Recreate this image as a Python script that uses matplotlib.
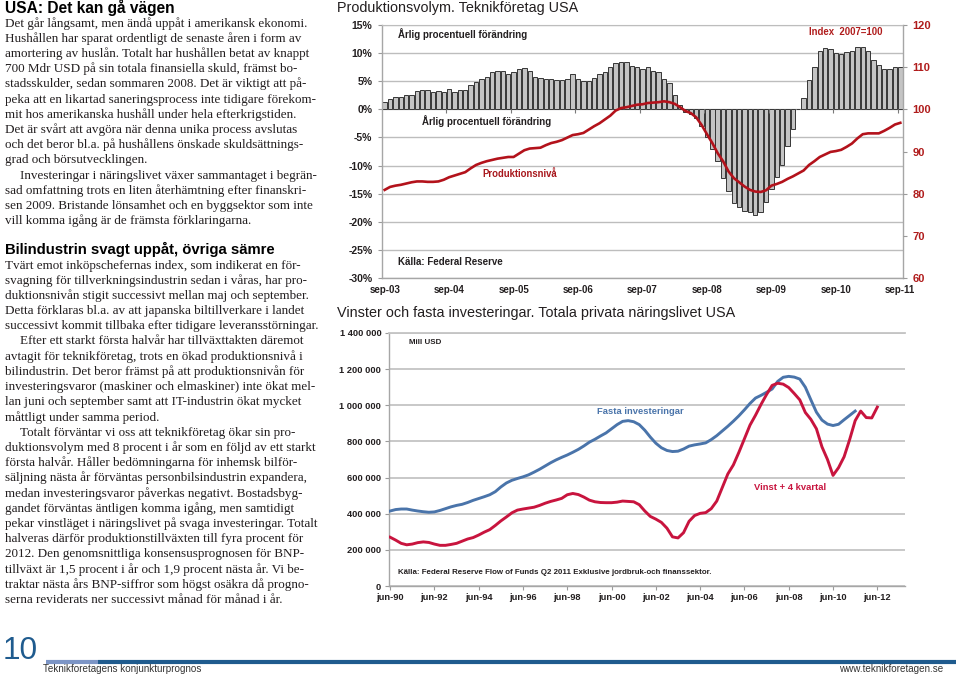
import matplotlib
matplotlib.use("Agg")
import matplotlib.pyplot as plt
from matplotlib.font_manager import FontProperties
from matplotlib.lines import Line2D
import numpy as np

W, H, DPI = 960, 676, 100

# ------------------------------------------------------------------ data
# Top chart: monthly, sep-03 .. sep-11
top_tick_labels = ["sep-03", "sep-04", "sep-05", "sep-06", "sep-07",
                   "sep-08", "sep-09", "sep-10", "sep-11"]
growth_pct = [1.3, 1.9, 2.2, 2.2, 2.6, 2.6, 3.3, 3.5, 3.4, 3.1, 3.2, 3.1,
              3.6, 3.1, 3.5, 3.5, 4.4, 4.9, 5.4, 5.7, 6.6, 6.8, 6.8, 6.3,
              6.7, 7.2, 7.3, 6.8, 5.7, 5.5, 5.4, 5.4, 5.2, 5.2, 5.4, 6.2,
              5.4, 5.0, 5.0, 5.5, 6.3, 6.6, 7.5, 8.3, 8.5, 8.5, 7.7, 7.5,
              7.2, 7.5, 6.9, 6.7, 5.4, 4.7, 2.5, 0.8, -0.5, -0.9, -1.5, -3.0,
              -5.0, -7.0, -9.2, -12.3, -14.6, -16.6, -17.4, -18.0, -18.3, -18.8, -18.2, -16.5,
              -14.1, -12.1, -9.9, -6.6, -3.5, 0.0, 2.1, 5.2, 7.5, 10.4, 10.9, 10.8,
              10.1, 9.8, 10.2, 10.4, 11.0, 11.1, 10.3, 8.8, 7.8, 7.2, 7.2, 7.5, 7.6]
prod_index = [80.9, 81.6, 81.9, 82.1, 82.4, 82.7, 82.9, 82.9, 82.8, 82.8, 82.9, 83.3,
              83.9, 84.3, 84.7, 85.1, 86.0, 86.8, 87.3, 87.7, 88.0, 88.3, 88.5, 88.7,
              88.7, 89.5, 90.3, 90.7, 90.8, 90.9, 91.5, 92.0, 92.3, 92.7, 93.3, 93.9,
              94.1, 94.4, 95.2, 96.0, 96.7, 97.6, 98.5, 99.7, 100.3, 100.5, 100.8, 101.1,
              101.2, 101.5, 101.6, 101.7, 101.9, 101.7, 101.3, 100.5, 99.6, 99.1, 98.1, 96.3,
              94.1, 92.0, 89.6, 87.7, 85.3, 83.7, 82.7, 81.7, 80.9, 80.5, 80.4, 80.8,
              81.9, 82.3, 82.8, 83.5, 84.1, 84.8, 85.5, 86.8, 87.7, 88.7, 89.3, 89.9,
              90.1, 90.4, 91.1, 91.9, 93.1, 94.1, 94.3, 94.3, 94.3, 94.9, 95.6, 96.4, 96.8]

# Bottom chart: quarterly from jun-90, Mill USD
bottom_tick_labels = ["jun-90", "jun-92", "jun-94", "jun-96", "jun-98", "jun-00",
                      "jun-02", "jun-04", "jun-06", "jun-08", "jun-10", "jun-12"]
investment = [415000, 423000, 426000, 426000, 420000, 415000, 411000, 408000, 410000, 418000, 428000, 438000,
              446000, 452000, 462000, 474000, 484000, 494000, 505000, 522000, 548000, 570000, 585000, 595000,
              604000, 615000, 630000, 646000, 664000, 682000, 698000, 712000, 725000, 740000, 756000, 775000,
              796000, 812000, 830000, 847000, 870000, 893000, 911000, 915000, 909000, 893000, 862000, 824000,
              790000, 765000, 750000, 744000, 746000, 758000, 774000, 781000, 786000, 792000, 810000, 832000,
              858000, 884000, 912000, 942000, 975000, 1010000, 1040000, 1055000, 1072000, 1090000, 1132000, 1155000,
              1160000, 1156000, 1145000, 1100000, 1030000, 962000, 918000, 896000, 888000, 895000, 920000, 944000, 968000]
profit_lead4 = [270000, 254000, 236000, 228000, 232000, 240000, 244000, 241000, 232000, 225000, 225000, 230000,
                236000, 248000, 260000, 268000, 282000, 298000, 312000, 335000, 360000, 382000, 405000, 420000,
                426000, 431000, 436000, 446000, 458000, 468000, 476000, 485000, 505000, 512000, 506000, 492000,
                475000, 466000, 462000, 461000, 461000, 464000, 470000, 468000, 466000, 450000, 415000, 385000,
                370000, 352000, 320000, 272000, 266000, 295000, 358000, 390000, 402000, 406000, 428000, 470000,
                545000, 620000, 670000, 740000, 815000, 890000, 945000, 1005000, 1060000, 1110000, 1122000, 1117000,
                1098000, 1065000, 1030000, 960000, 922000, 870000, 770000, 700000, 612000, 655000, 715000, 810000,
                915000, 968000, 932000, 930000, 990000]

# Text column
col1_paragraphs = [
    ["Det går långsamt, men ändå uppåt i amerikansk ekonomi.",
     "Hushållen har sparat ordentligt de senaste åren i form av",
     "amortering av huslån. Totalt har hushållen betat av knappt",
     "700 Mdr USD på sin totala finansiella skuld, främst bo-",
     "stadsskulder, sedan sommaren 2008. Det är viktigt att på-",
     "peka att en likartad saneringsprocess inte tidigare förekom-",
     "mit hos amerikanska hushåll under hela efterkrigstiden.",
     "Det är svårt att avgöra när denna unika process avslutas",
     "och det beror bl.a. på hushållens önskade skuldsättnings-",
     "grad och börsutvecklingen."],
    ["Investeringar i näringslivet växer sammantaget i begrän-",
     "sad omfattning trots en liten återhämtning efter finanskri-",
     "sen 2009. Bristande lönsamhet och en byggsektor som inte",
     "vill komma igång är de främsta förklaringarna."],
]
col2_paragraphs = [
    ["Tvärt emot inköpschefernas index, som indikerat en för-",
     "svagning för tillverkningsindustrin sedan i våras, har pro-",
     "duktionsnivån stigit successivt mellan maj och september.",
     "Detta förklaras bl.a. av att japanska biltillverkare i landet",
     "successivt kommit tillbaka efter tidigare leveransstörningar."],
    ["Efter ett starkt första halvår har tillväxttakten däremot",
     "avtagit för teknikföretag, trots en ökad produktionsnivå i",
     "bilindustrin. Det beror främst på att produktionsnivån för",
     "investeringsvaror (maskiner och elmaskiner) inte ökat mel-",
     "lan juni och september samt att IT-industrin ökat mycket",
     "måttligt under samma period."],
    ["Totalt förväntar vi oss att teknikföretag ökar sin pro-",
     "duktionsvolym med 8 procent i år som en följd av ett starkt",
     "första halvår. Håller bedömningarna för inhemsk bilför-",
     "säljning nästa år förväntas personbilsindustrin expandera,",
     "medan investeringsvaror påverkas negativt. Bostadsbyg-",
     "gandet förväntas äntligen komma igång, men samtidigt",
     "pekar vinstläget i näringslivet på svaga investeringar. Totalt",
     "halveras därför produktionstillväxten till fyra procent för",
     "2012. Den genomsnittliga konsensusprognosen för BNP-",
     "tillväxt är 1,5 procent i år och 1,9 procent nästa år. Vi be-",
     "traktar nästa års BNP-siffror som högst osäkra då progno-",
     "serna reviderats ner successivt månad för månad i år."],
]

# ------------------------------------------------------------------ helpers
fig = plt.figure(figsize=(W / DPI, H / DPI), dpi=DPI)
fig.patch.set_facecolor("white")
renderer = fig.canvas.get_renderer()
INK = "#231f20"


def tw(s, prop):
    w, h, d = renderer.get_text_width_height_descent(s, prop, ismath=False)
    return w


def ptext(x, y, s, size, family="Liberation Sans", weight="normal", color=INK,
          width=None, va="center", ha="left"):
    prop = FontProperties(family=family, weight=weight, size=size)
    if width:
        size = size * width / tw(s, prop)
        prop = FontProperties(family=family, weight=weight, size=size)
    fig.text(x / W, 1 - y / H, s, fontproperties=prop, color=color, va=va, ha=ha)


def px_axes(l, t, r, b):
    return fig.add_axes([l / W, 1 - b / H, (r - l) / W, (b - t) / H])


def body_block(paragraphs, x0, y0, step, size, indent=15):
    prop = FontProperties(family="Liberation Serif", size=size)
    k = 0
    for pi, para in enumerate(paragraphs):
        for li, line in enumerate(para):
            xs = x0 + (indent if (li == 0 and pi > 0) else 0)
            fig.text(xs / W, 1 - (y0 + k * step) / H, line, fontproperties=prop,
                     color=INK, va="baseline", ha="left")
            k += 1


# calibrate body font size: full lines should end near x = 306
X0, RIGHT = 5, 306
probe = FontProperties(family="Liberation Serif", size=9)
nat = []
for paras in (col1_paragraphs, col2_paragraphs):
    for pi, para in enumerate(paras):
        for li, line in enumerate(para[:-1]):
            nat.append(tw(line, probe) + (15 if (li == 0 and pi > 0) else 0))
body_size = 9 * (RIGHT - X0) / np.mean(nat)

# ------------------------------------------------------------------ text column
ptext(5, 13, "USA: Det kan gå vägen", 11, weight="bold", color="black",
      width=170, va="baseline")
body_block(col1_paragraphs, X0, 26.5, 15.22, body_size)
ptext(5, 254, "Bilindustrin svagt uppåt, övriga sämre", 11, weight="bold",
      color="black", width=272, va="baseline")
body_block(col2_paragraphs, X0, 268.5, 15.2, body_size)

# ------------------------------------------------------------------ top chart
ptext(337, 8, "Produktionsvolym. Teknikföretag USA", 10.5, width=243)

ax = px_axes(382, 25, 903, 278)
xm = np.arange(len(growth_pct))
ax.bar(xm, growth_pct, width=0.82, color="#c4c4c4", edgecolor="#363636",
       linewidth=0.7, zorder=2)
ax.set_xlim(-0.5, len(growth_pct) - 0.5)
ax.set_ylim(-30, 15)
yt = list(range(-30, 16, 5))
ax.set_yticks(yt, [f"{v}%" for v in yt], family="Liberation Sans",
              fontweight="bold", fontsize=7.5, color=INK)
ax.set_xticks(np.arange(len(top_tick_labels)) * 12, top_tick_labels,
              family="Liberation Sans", fontweight="bold", fontsize=7, color=INK)
ax.tick_params(axis="x", length=0, pad=5)
ax.tick_params(axis="y", length=3, color="#9a9a9a", width=0.8, pad=4)
ax.grid(axis="y", color="#bdbdbd", lw=1.0, zorder=0)
ax.set_axisbelow(True)
for s in ("left", "bottom", "right"):
    ax.spines[s].set_color("#a6a6a6")
    ax.spines[s].set_linewidth(1.0)
ax.spines["top"].set_color("#bdbdbd")
ax.vlines(np.arange(11.5, len(growth_pct), 12), -0.6, 0, color="#7a7a7a",
          lw=0.8, zorder=3)

ax2 = ax.twinx()
ax2.plot(xm, prod_index, color="#b3121b", lw=1.9, zorder=4)
ax2.set_ylim(60, 120)
rt = list(range(60, 121, 10))
ax2.set_yticks(rt, [str(v) for v in rt], family="Liberation Sans",
               fontweight="bold", fontsize=8, color="#b01c1c")
ax2.tick_params(axis="y", length=3, color="#9a9a9a", width=0.8, pad=4)
for s in ax2.spines.values():
    s.set_visible(False)

ptext(398, 34, "Årlig procentuell förändring", 7, weight="bold", width=129)
ptext(422, 121, "Årlig procentuell förändring", 7, weight="bold", width=129)
ptext(482, 174, "Produktionsnivå", 7, weight="bold", color="#a8171c", width=75)
ptext(809, 32, "Index  2007=100", 7, weight="bold", color="#b01c1c", width=74)
ptext(398, 262, "Källa: Federal Reserve", 7, weight="bold", width=105)

# ------------------------------------------------------------------ bottom chart
ptext(337, 313, "Vinster och fasta investeringar. Totala privata näringslivet USA",
      10.5, width=401)

bx = px_axes(389, 333, 905, 586)
bx.plot(np.arange(len(investment)), investment, color="#4a74aa", lw=2.1, zorder=3)
bx.plot(np.arange(len(profit_lead4)), profit_lead4, color="#c8143e", lw=2.1, zorder=3)
bx.set_xlim(-0.2, 93)
bx.set_ylim(0, 1400000)
bt = list(range(0, 1400001, 200000))
bx.set_yticks(bt, [f"{v:,}".replace(",", " ") for v in bt], family="Liberation Sans",
              fontweight="bold", fontsize=6.7, color=INK)
bx.set_xticks(np.arange(len(bottom_tick_labels)) * 8, bottom_tick_labels,
              family="Liberation Sans", fontweight="bold", fontsize=6.7, color=INK)
bx.tick_params(axis="x", length=3, color="#9a9a9a", width=0.8, pad=2)
bx.tick_params(axis="y", length=3, color="#9a9a9a", width=0.8, pad=2.5)
bx.grid(axis="y", color="#c4c4c4", lw=1.3, zorder=0)
bx.set_axisbelow(True)
bx.spines["top"].set_color("#c4c4c4")
bx.spines["top"].set_linewidth(1.3)
bx.spines["right"].set_visible(False)
for s in ("left", "bottom"):
    bx.spines[s].set_color("#a6a6a6")
    bx.spines[s].set_linewidth(1.0)

ptext(409, 342, "Mill USD", 6, weight="bold", width=32)
ptext(597, 411, "Fasta investeringar", 7, weight="bold", color="#4a74aa", width=86)
ptext(754, 488, "Vinst + 4 kvartal", 7, weight="bold", color="#c8143e", width=72)
ptext(398, 573, "Källa: Federal Reserve Flow of Funds Q2 2011 Exklusive jordbruk-och finanssektor.",
      6, weight="bold", width=316)

# ------------------------------------------------------------------ footer
ptext(3, 659, "10", 26, color="#1f5b8e", width=35, va="baseline")
fig.add_artist(Line2D([46 / W, 98 / W], [1 - 661.5 / H] * 2, color="#7c95c6",
                      lw=3, solid_capstyle="butt"))
fig.add_artist(Line2D([98 / W, 956 / W], [1 - 661.5 / H] * 2, color="#1f5b8e",
                      lw=3, solid_capstyle="butt"))
ptext(43, 669.5, "Teknikforetagens konjunkturprognos", 7, color="#333333", width=159)
ptext(943, 669.5, "www.teknikforetagen.se", 7, color="#333333", width=104, ha="right")

fig.savefig("out.png", dpi=DPI, facecolor="white")
